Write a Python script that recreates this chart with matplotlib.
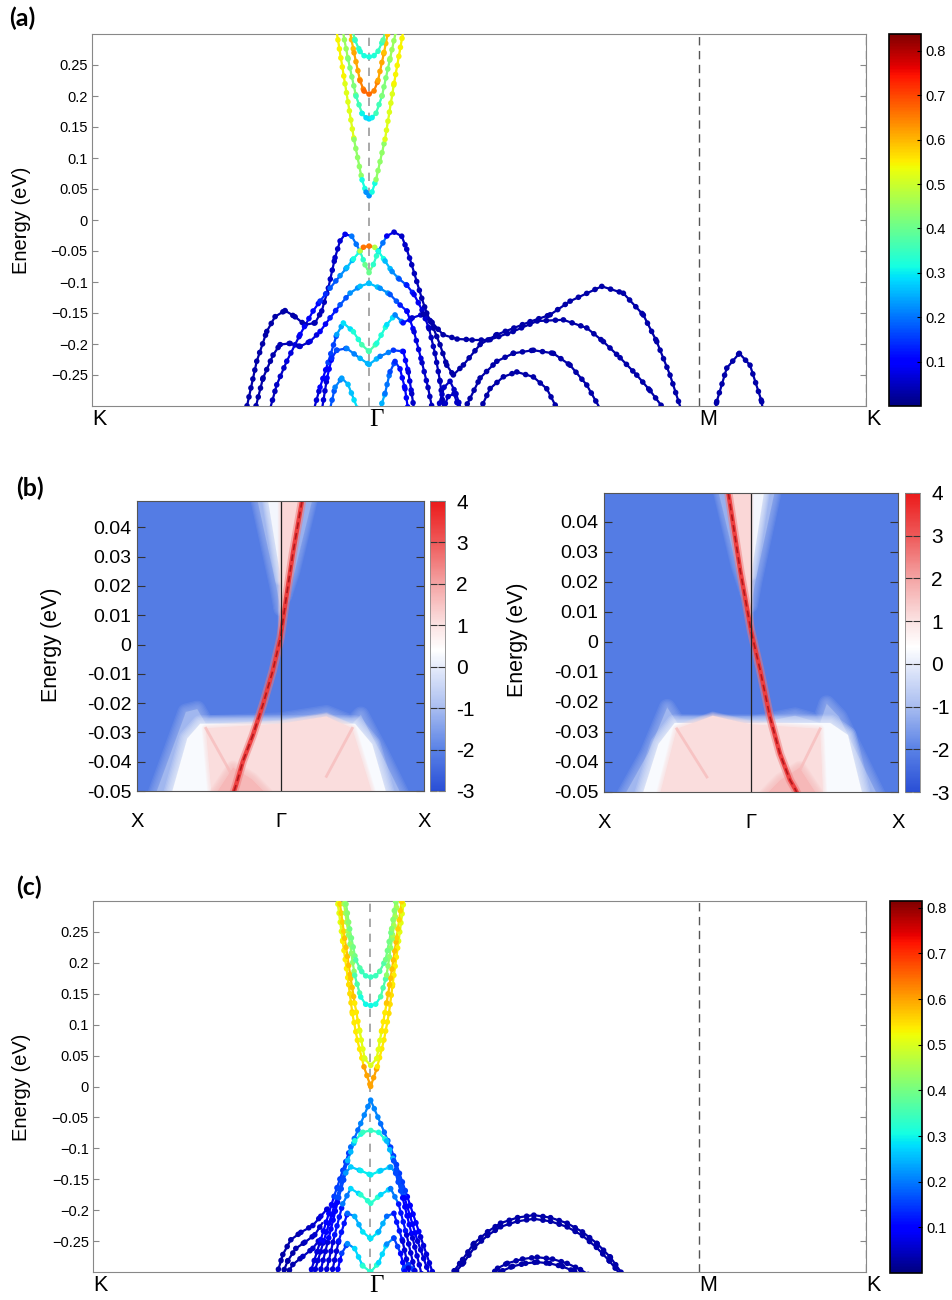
import numpy as np
import matplotlib
matplotlib.use('Agg')
import matplotlib.pyplot as plt
from matplotlib.collections import LineCollection
from matplotlib.colors import Normalize, LinearSegmentedColormap

plt.rcParams['font.family'] = ['Liberation Sans', 'DejaVu Sans']

# ---------------- k-path for panels (a) and (c) ----------------
path_ticks = [0.0, 2.77, 6.07, 7.74]
path_labels = ['K', 'Γ', 'M', 'K']
e_ticks = [-0.25, -0.2, -0.15, -0.1, -0.05, 0.0, 0.05, 0.1, 0.15, 0.2, 0.25]
cb_ticks = [0.1, 0.2, 0.3, 0.4, 0.5, 0.6, 0.7, 0.8]

# ---------------- panel (a) bands: k, energy (eV), weight ----------------
a_vb1_k = [1.55, 1.647, 1.747, 1.83, 1.93, 2.03, 2.13, 2.23, 2.297, 2.363, 2.43, 2.48, 2.53, 2.597, 2.68, 2.73, 2.77,
           2.813, 2.863, 2.947, 3.02, 3.097, 3.147, 3.197, 3.247, 3.297, 3.347, 3.413, 3.48, 3.547, 3.613, 3.713,
           3.88, 4.047, 4.38, 4.58, 4.78, 5.097, 5.313, 5.513, 5.647, 5.78, 5.90]
a_vb1_e = [-0.30, -0.228, -0.180, -0.156, -0.146, -0.156, -0.169, -0.166, -0.147, -0.110, -0.061, -0.034, -0.023,
           -0.026, -0.050, -0.072, -0.085, -0.072, -0.050, -0.026, -0.0195, -0.026, -0.047, -0.072, -0.099, -0.126,
           -0.150, -0.174, -0.201, -0.234, -0.25, -0.234, -0.201, -0.185, -0.164, -0.153, -0.131, -0.107, -0.118,
           -0.153, -0.196, -0.25, -0.31]
a_vb1_w = [0.03, 0.03, 0.03, 0.03, 0.03, 0.03, 0.04, 0.04, 0.04, 0.05, 0.05, 0.06, 0.07, 0.1, 0.3, 0.38, 0.42,
           0.38, 0.3, 0.1, 0.07, 0.06, 0.05, 0.05, 0.04, 0.04, 0.03, 0.03, 0.03, 0.03, 0.03, 0.03, 0.03, 0.03, 0.03,
           0.03, 0.03, 0.03, 0.03, 0.03, 0.03, 0.03, 0.03]

a_vb2_k = [1.78, 1.847, 1.947, 2.08, 2.21, 2.28, 2.38, 2.48, 2.547, 2.613, 2.68, 2.713, 2.77, 2.827, 2.863, 2.93,
           3.00, 3.07, 3.147, 3.22, 3.30, 3.37, 3.43, 3.48, 3.52]
a_vb2_e = [-0.305, -0.266, -0.228, -0.185, -0.147, -0.131, -0.11, -0.09, -0.077, -0.063, -0.050, -0.044, -0.042,
           -0.044, -0.050, -0.066, -0.083, -0.095, -0.105, -0.12, -0.145, -0.175, -0.215, -0.26, -0.31]
a_vb2_w = [0.04, 0.05, 0.06, 0.08, 0.1, 0.12, 0.16, 0.2, 0.24, 0.28, 0.35, 0.6, 0.72, 0.6, 0.35, 0.28, 0.24,
           0.2, 0.15, 0.1, 0.07, 0.05, 0.04, 0.04, 0.04]

a_vb3_k = [1.64, 1.71, 1.81, 1.88, 1.98, 2.08, 2.18, 2.28, 2.38, 2.48, 2.58, 2.68, 2.77, 2.88, 2.98, 3.08, 3.15,
           3.22, 3.30, 3.36, 3.41]
a_vb3_e = [-0.30, -0.255, -0.218, -0.201, -0.199, -0.204, -0.196, -0.18, -0.158, -0.137, -0.118, -0.107, -0.102,
           -0.11, -0.12, -0.137, -0.147, -0.18, -0.23, -0.27, -0.31]
a_vb3_w = [0.03, 0.03, 0.03, 0.04, 0.04, 0.05, 0.06, 0.08, 0.1, 0.15, 0.2, 0.25, 0.28, 0.25, 0.2, 0.15, 0.1,
           0.08, 0.06, 0.05, 0.04]

a_vb4_k = [2.22, 2.28, 2.36, 2.447, 2.513, 2.613, 2.697, 2.77, 2.847, 2.947, 3.03, 3.11, 3.20, 3.31, 3.40, 3.51,
           3.65, 3.80, 3.98, 4.21, 4.45, 4.713, 4.947, 5.113, 5.28, 5.447, 5.58, 5.72]
a_vb4_e = [-0.305, -0.27, -0.23, -0.185, -0.166, -0.18, -0.201, -0.212, -0.199, -0.169, -0.153, -0.166, -0.158,
           -0.152, -0.165, -0.185, -0.192, -0.193, -0.193, -0.18, -0.163, -0.161, -0.174, -0.196, -0.222, -0.25,
           -0.275, -0.305]
a_vb4_w = [0.05, 0.08, 0.12, 0.2, 0.28, 0.3, 0.35, 0.38, 0.35, 0.3, 0.28, 0.15, 0.08, 0.04, 0.03, 0.03, 0.03,
           0.03, 0.03, 0.03, 0.03, 0.03, 0.03, 0.03, 0.03, 0.03, 0.03, 0.03]

a_vb5_k = [2.30, 2.35, 2.397, 2.447, 2.547, 2.68, 2.77, 2.88, 3.013, 3.113, 3.163, 3.197, 3.22]
a_vb5_e = [-0.305, -0.255, -0.223, -0.21, -0.207, -0.223, -0.233, -0.22, -0.21, -0.212, -0.245, -0.28, -0.305]
a_vb5_w = [0.05, 0.08, 0.12, 0.16, 0.18, 0.24, 0.27, 0.24, 0.18, 0.12, 0.08, 0.06, 0.05]

a_vb6_k = [2.38, 2.43, 2.497, 2.56, 2.62, 2.67, 2.77, 2.87, 2.93, 2.98, 3.03, 3.08, 3.13, 3.16]
a_vb6_e = [-0.305, -0.27, -0.255, -0.265, -0.29, -0.31, -0.33, -0.31, -0.28, -0.245, -0.228, -0.24, -0.272, -0.305]
a_vb6_w = [0.15, 0.2, 0.22, 0.25, 0.28, 0.3, 0.3, 0.28, 0.22, 0.18, 0.15, 0.12, 0.1, 0.08]

a_vb7_k = [3.45, 3.52, 3.58, 3.64, 3.70]
a_vb7_e = [-0.31, -0.27, -0.26, -0.28, -0.31]
a_vb7_w = [0.05, 0.05, 0.05, 0.05, 0.05]

a_vb8_k = [3.50, 3.56, 3.62, 3.68]
a_vb8_e = [-0.31, -0.285, -0.28, -0.31]
a_vb8_w = [0.05, 0.05, 0.05, 0.05]

a_vb9_k = [3.71, 3.78, 3.88, 4.047, 4.213, 4.413, 4.613, 4.78, 4.947, 5.08]
a_vb9_e = [-0.31, -0.288, -0.255, -0.228, -0.215, -0.21, -0.215, -0.234, -0.266, -0.304]
a_vb9_w = [0.03, 0.03, 0.03, 0.03, 0.03, 0.03, 0.03, 0.03, 0.03, 0.03]

a_vb10_k = [3.87, 3.98, 4.113, 4.247, 4.413, 4.547, 4.67]
a_vb10_e = [-0.31, -0.272, -0.253, -0.245, -0.253, -0.272, -0.31]
a_vb10_w = [0.03, 0.03, 0.03, 0.03, 0.03, 0.03, 0.03]

a_vb11_k = [6.23, 6.247, 6.347, 6.473, 6.58, 6.697, 6.71]
a_vb11_e = [-0.31, -0.293, -0.239, -0.215, -0.234, -0.293, -0.31]
a_vb11_w = [0.03, 0.03, 0.03, 0.03, 0.03, 0.03, 0.03]

a_cb1_k = [2.43, 2.53, 2.62, 2.70, 2.74, 2.77, 2.80, 2.84, 2.93, 3.02, 3.13]
a_cb1_e = [0.32, 0.22, 0.13, 0.065, 0.045, 0.039, 0.045, 0.065, 0.13, 0.22, 0.32]
a_cb1_w = [0.55, 0.54, 0.5, 0.38, 0.25, 0.2, 0.25, 0.38, 0.5, 0.54, 0.55]

a_cb2_k = [2.49, 2.56, 2.64, 2.70, 2.74, 2.77, 2.80, 2.84, 2.90, 2.98, 3.06]
a_cb2_e = [0.32, 0.26, 0.20, 0.172, 0.165, 0.163, 0.165, 0.172, 0.20, 0.26, 0.32]
a_cb2_w = [0.45, 0.45, 0.4, 0.32, 0.29, 0.28, 0.29, 0.32, 0.4, 0.45, 0.45]

a_cb3_k = [2.56, 2.62, 2.68, 2.72, 2.77, 2.82, 2.86, 2.92, 2.98]
a_cb3_e = [0.32, 0.27, 0.225, 0.208, 0.203, 0.208, 0.225, 0.27, 0.32]
a_cb3_w = [0.58, 0.6, 0.63, 0.66, 0.68, 0.66, 0.63, 0.6, 0.58]

a_cb4_k = [2.58, 2.63, 2.68, 2.72, 2.77, 2.82, 2.86, 2.91, 2.96]
a_cb4_e = [0.32, 0.29, 0.272, 0.265, 0.263, 0.265, 0.272, 0.29, 0.32]
a_cb4_w = [0.4, 0.36, 0.33, 0.32, 0.32, 0.32, 0.33, 0.36, 0.4]

# ---------------- panel (c) bands ----------------
c_cb1_k = [2.44, 2.50, 2.56, 2.597, 2.647, 2.713, 2.78, 2.847, 2.913, 2.963, 3.00, 3.06, 3.12]
c_cb1_e = [0.31, 0.235, 0.165, 0.118, 0.075, 0.032, 0.0, 0.032, 0.075, 0.118, 0.165, 0.235, 0.31]
c_cb1_w = [0.5, 0.52, 0.55, 0.55, 0.53, 0.55, 0.65, 0.55, 0.53, 0.55, 0.55, 0.52, 0.5]

c_cb2_k = [2.46, 2.52, 2.58, 2.62, 2.67, 2.72, 2.78, 2.84, 2.89, 2.94, 2.98, 3.04, 3.10]
c_cb2_e = [0.31, 0.24, 0.175, 0.135, 0.09, 0.045, 0.034, 0.045, 0.09, 0.135, 0.175, 0.24, 0.31]
c_cb2_w = [0.55, 0.57, 0.58, 0.56, 0.52, 0.5, 0.5, 0.5, 0.52, 0.56, 0.58, 0.57, 0.55]

c_cb3_k = [2.50, 2.56, 2.62, 2.68, 2.73, 2.78, 2.83, 2.88, 2.94, 3.00, 3.06]
c_cb3_e = [0.31, 0.245, 0.18, 0.145, 0.133, 0.131, 0.133, 0.145, 0.18, 0.245, 0.31]
c_cb3_w = [0.45, 0.45, 0.4, 0.32, 0.3, 0.3, 0.3, 0.32, 0.4, 0.45, 0.45]

c_cb4_k = [2.52, 2.57, 2.63, 2.69, 2.73, 2.78, 2.83, 2.87, 2.93, 2.99, 3.04]
c_cb4_e = [0.31, 0.255, 0.205, 0.186, 0.179, 0.177, 0.179, 0.186, 0.205, 0.255, 0.31]
c_cb4_w = [0.42, 0.42, 0.38, 0.35, 0.34, 0.34, 0.34, 0.35, 0.38, 0.42, 0.42]

c_vb1_k = [2.16, 2.28, 2.413, 2.58, 2.68, 2.78, 2.88, 2.98, 3.147, 3.28, 3.42]
c_vb1_e = [-0.31, -0.248, -0.178, -0.098, -0.06, -0.022, -0.06, -0.098, -0.178, -0.243, -0.31]
c_vb1_w = [0.05, 0.08, 0.12, 0.18, 0.2, 0.22, 0.2, 0.18, 0.12, 0.08, 0.05]

c_vb2_k = [2.20, 2.31, 2.44, 2.55, 2.62, 2.70, 2.78, 2.86, 2.94, 3.01, 3.12, 3.25, 3.38]
c_vb2_e = [-0.31, -0.25, -0.18, -0.12, -0.088, -0.074, -0.071, -0.074, -0.088, -0.12, -0.18, -0.25, -0.31]
c_vb2_w = [0.05, 0.08, 0.12, 0.2, 0.3, 0.33, 0.35, 0.33, 0.3, 0.2, 0.12, 0.08, 0.05]

c_vb3_k = [2.26, 2.36, 2.46, 2.53, 2.58, 2.68, 2.78, 2.88, 2.98, 3.03, 3.10, 3.20, 3.30]
c_vb3_e = [-0.31, -0.245, -0.18, -0.14, -0.130, -0.136, -0.143, -0.136, -0.130, -0.14, -0.18, -0.245, -0.31]
c_vb3_w = [0.05, 0.08, 0.12, 0.2, 0.25, 0.28, 0.3, 0.28, 0.25, 0.2, 0.12, 0.08, 0.05]

c_vb4_k = [2.32, 2.42, 2.50, 2.58, 2.68, 2.78, 2.88, 2.98, 3.06, 3.14, 3.24]
c_vb4_e = [-0.31, -0.24, -0.19, -0.165, -0.175, -0.189, -0.175, -0.165, -0.19, -0.24, -0.31]
c_vb4_w = [0.05, 0.08, 0.15, 0.25, 0.3, 0.35, 0.3, 0.25, 0.15, 0.08, 0.05]

c_vb5_k = [2.38, 2.46, 2.547, 2.62, 2.70, 2.78, 2.86, 2.94, 3.013, 3.10, 3.18]
c_vb5_e = [-0.31, -0.25, -0.205, -0.21, -0.235, -0.246, -0.235, -0.21, -0.205, -0.25, -0.31]
c_vb5_w = [0.05, 0.08, 0.15, 0.22, 0.27, 0.3, 0.27, 0.22, 0.15, 0.08, 0.05]

c_vb6_k = [2.43, 2.49, 2.547, 2.62, 2.70, 2.78, 2.86, 2.94, 3.013, 3.08, 3.14]
c_vb6_e = [-0.31, -0.27, -0.254, -0.262, -0.29, -0.30, -0.285, -0.255, -0.245, -0.27, -0.31]
c_vb6_w = [0.08, 0.12, 0.18, 0.25, 0.3, 0.35, 0.3, 0.25, 0.18, 0.12, 0.08]

c_vb7_k = [1.83, 1.90, 1.98, 2.08, 2.20, 2.28, 2.36]
c_vb7_e = [-0.31, -0.272, -0.248, -0.236, -0.225, -0.21, -0.195]
c_vb7_w = [0.03, 0.03, 0.03, 0.04, 0.05, 0.06, 0.08]

c_vb8_k = [1.88, 1.95, 2.03, 2.12, 2.22, 2.30]
c_vb8_e = [-0.31, -0.282, -0.262, -0.252, -0.24, -0.22]
c_vb8_w = [0.03, 0.03, 0.03, 0.04, 0.05, 0.06]

c_vb9_k = [1.92, 2.0, 2.1, 2.2, 2.28]
c_vb9_e = [-0.31, -0.288, -0.275, -0.262, -0.245]
c_vb9_w = [0.03, 0.03, 0.04, 0.05, 0.06]

c_vb10_k = [3.08, 3.12, 3.16, 3.20, 3.24]
c_vb10_e = [-0.31, -0.292, -0.288, -0.295, -0.31]
c_vb10_w = [0.15, 0.15, 0.15, 0.15, 0.15]

c_vb11_k = [3.56, 3.70, 3.813, 3.95, 4.08, 4.25, 4.413, 4.58, 4.747, 4.90, 5.047, 5.18, 5.33]
c_vb11_e = [-0.31, -0.28, -0.254, -0.235, -0.221, -0.212, -0.208, -0.212, -0.221, -0.235, -0.254, -0.276, -0.31]
c_vb11_w = [0.03, 0.03, 0.03, 0.03, 0.03, 0.03, 0.03, 0.03, 0.03, 0.03, 0.03, 0.03, 0.03]

c_vb12_k = [3.58, 3.71, 3.82, 3.95, 4.08, 4.25, 4.413, 4.58, 4.747, 4.90, 5.04, 5.17, 5.31]
c_vb12_e = [-0.31, -0.285, -0.26, -0.241, -0.227, -0.218, -0.214, -0.218, -0.227, -0.241, -0.26, -0.282, -0.31]
c_vb12_w = [0.03, 0.03, 0.03, 0.03, 0.03, 0.03, 0.03, 0.03, 0.03, 0.03, 0.03, 0.03, 0.03]

c_vb13_k = [3.96, 4.05, 4.147, 4.30, 4.447, 4.60, 4.747, 4.88, 5.02]
c_vb13_e = [-0.31, -0.294, -0.286, -0.279, -0.276, -0.279, -0.286, -0.296, -0.31]
c_vb13_w = [0.03, 0.03, 0.03, 0.03, 0.03, 0.03, 0.03, 0.03, 0.03]

c_vb14_k = [4.0, 4.1, 4.2, 4.33, 4.447, 4.57, 4.70, 4.82, 4.95]
c_vb14_e = [-0.31, -0.298, -0.291, -0.286, -0.284, -0.286, -0.291, -0.299, -0.31]
c_vb14_w = [0.03, 0.03, 0.03, 0.03, 0.03, 0.03, 0.03, 0.03, 0.03]

# ---------------- panel (b) spectral maps ----------------
b_xticks = [-1.0, 0.0, 1.0]
b_xlabels = ['X', 'Γ', 'X']
b_yticks = [-0.05, -0.04, -0.03, -0.02, -0.01, 0.0, 0.01, 0.02, 0.03, 0.04]
b_ylabels = ['-0.05', '-0.04', '-0.03', '-0.02', '-0.01', '0', '0.01', '0.02', '0.03', '0.04']
b_cticks = [-3, -2, -1, 0, 1, 2, 3, 4]
b_background = -2.1

bl_ss_k = [0.15, 0.086, 0.04, 0.0, -0.054, -0.123, -0.193, -0.263, -0.31, -0.33]
bl_ss_e = [0.049, 0.031, 0.016, 0.0023, -0.009, -0.0206, -0.031, -0.040, -0.048, -0.051]
bl_cone_k = [-0.16, 0.02, 0.0, -0.03]
bl_cone_e = [0.049, 0.049, 0.012, 0.02]
bl_core_k = [-0.09, 0.0, 0.0]
bl_core_e = [0.049, 0.049, 0.022]
bl_sliver_k = [0.0, 0.15, 0.086, 0.04, 0.0]
bl_sliver_e = [0.049, 0.049, 0.031, 0.016, 0.0023]
bl_halo_k = [0.15, 0.22, 0.10, 0.04]
bl_halo_e = [0.049, 0.049, 0.025, 0.016]
bl_outer_k = [-0.87, -0.75, -0.66, -0.58, -0.52, 0.0, 0.32, 0.50, 0.56, 0.70, 0.84]
bl_outer_e = [-0.051, -0.035, -0.023, -0.022, -0.027, -0.026, -0.0235, -0.027, -0.024, -0.037, -0.051]
bl_mid_k = [-0.76, -0.65, -0.56, 0.52, 0.64, 0.74]
bl_mid_e = [-0.051, -0.032, -0.027, -0.027, -0.034, -0.051]
bl_pink_k = [-0.48, -0.52, 0.0, 0.32, 0.50, 0.64]
bl_pink_e = [-0.051, -0.0286, -0.027, -0.0245, -0.0286, -0.051]
bl_edge1_k = [-0.52, -0.30]
bl_edge1_e = [-0.0286, -0.048]
bl_edge2_k = [0.50, 0.32]
bl_edge2_e = [-0.0286, -0.045]
bl_blob_k = [-0.45, -0.33, -0.20, -0.10]
bl_blob_e = [-0.051, -0.042, -0.046, -0.051]

br_ss_k = [-0.154, -0.073, 0.0, 0.063, 0.129, 0.197, 0.265, 0.30, 0.32]
br_ss_e = [0.0495, 0.0236, 0.0037, -0.0096, -0.025, -0.0373, -0.046, -0.049, -0.051]
br_cone_k = [0.16, -0.02, 0.0, 0.03]
br_cone_e = [0.0495, 0.0495, 0.012, 0.02]
br_core_k = [0.09, 0.0, 0.0]
br_core_e = [0.0495, 0.0495, 0.022]
br_sliver_k = [0.0, -0.154, -0.073, 0.0]
br_sliver_e = [0.0495, 0.0495, 0.0236, 0.0037]
br_halo_k = [-0.154, -0.22, -0.10, -0.04]
br_halo_e = [0.0495, 0.0495, 0.025, 0.016]
br_outer_k = [-0.86, -0.70, -0.57, -0.50, 0.0, 0.30, 0.47, 0.515, 0.60, 0.70, 0.86]
br_outer_e = [-0.051, -0.037, -0.0218, -0.027, -0.0275, -0.0246, -0.027, -0.0206, -0.025, -0.035, -0.051]
br_mid_k = [-0.74, -0.63, -0.52, 0.54, 0.66, 0.76]
br_mid_e = [-0.051, -0.034, -0.027, -0.027, -0.031, -0.051]
br_pink_k = [-0.62, -0.505, -0.26, 0.0, 0.47, 0.49]
br_pink_e = [-0.051, -0.029, -0.0246, -0.0275, -0.029, -0.051]
br_edge1_k = [-0.505, -0.30]
br_edge1_e = [-0.029, -0.045]
br_edge2_k = [0.47, 0.28]
br_edge2_e = [-0.029, -0.048]
br_blob_k = [0.10, 0.20, 0.33, 0.45]
br_blob_e = [-0.051, -0.046, -0.042, -0.051]

# ---------------- helpers ----------------
jet = plt.cm.jet
spec_cmap = LinearSegmentedColormap.from_list(
    'spec', [(0.0, '#2a4fd6'), (1 / 7, '#5a82e6'), (2 / 7, '#a9bdf0'), (3.4 / 7, '#ffffff'),
             (4 / 7, '#fbe3e3'), (5 / 7, '#f4a5a5'), (6 / 7, '#ee5a5a'), (1.0, '#ec1a1a')])
spec_norm = Normalize(-3, 4)


def draw_band(ax, k, e, w, norm):
    k = np.asarray(k)
    e = np.asarray(e)
    w = np.asarray(w)
    ax.plot(k, e, color='#333333', lw=0.7, zorder=2)
    pts = np.column_stack([k, e]).reshape(-1, 1, 2)
    segs = np.concatenate([pts[:-1], pts[1:]], axis=1)
    cols = jet(norm(0.5 * (w[:-1] + w[1:])))
    ax.add_collection(LineCollection(segs, colors=cols, linewidths=1.6, zorder=3))
    ax.add_collection(LineCollection(segs, colors=cols, linewidths=4.0, linestyles=[(0, (0.05, 1.6))],
                                     capstyle='round', zorder=4))


def band_panel(ax, cax, bands, vmax):
    norm = Normalize(0, vmax)
    for k, e, w in bands:
        draw_band(ax, k, e, w, norm)
    ax.set_xlim(path_ticks[0], path_ticks[-1])
    ax.set_ylim(-0.30, 0.30)
    ax.axvline(path_ticks[1], color='#999999', lw=1.2, ls=(0, (5, 4)), zorder=1)
    ax.axvline(path_ticks[2], color='#555555', lw=1.0, ls=(0, (6, 4)), zorder=1)
    ax.axvline(path_ticks[3], color='#888888', lw=1.0, ls=(0, (6, 4)), zorder=1)
    for s in ax.spines.values():
        s.set_color('#888888')
    ax.set_yticks(e_ticks)
    ax.set_yticklabels([f'{v:g}'.replace('-', '\u2212') for v in e_ticks], fontsize=10.5)
    ax.tick_params(axis='y', direction='in', length=4, color='#888888', right=True, pad=3)
    ax.set_xticks(path_ticks)
    ax.set_xticklabels(path_labels, fontsize=15.5, ha='left')
    gamma = ax.get_xticklabels()[1]
    gamma.set_family('Liberation Serif')
    gamma.set_fontsize(18)
    ax.tick_params(axis='x', length=0, pad=2)
    sm = plt.cm.ScalarMappable(norm=norm, cmap=jet)
    cb = plt.colorbar(sm, cax=cax, ticks=cb_ticks)
    cb.ax.tick_params(direction='in', length=3, labelsize=10.5)
    cb.ax.set_yticklabels([f'{v:g}' for v in cb_ticks])
    cb.outline.set_linewidth(1.2)


def soft_fill(ax, k, e, color, z, feather=7.0, steps=6):
    # solid polygon plus a few translucent strokes so the edge fades into the background
    ax.fill(k, e, color=color, lw=0, zorder=z)
    for i in range(1, steps + 1):
        ax.fill(k, e, facecolor='none', edgecolor=color, lw=feather * i / steps,
                alpha=0.9 / steps, joinstyle='round', zorder=z)


def spec_panel(ax, cax, d, ymax):
    c = lambda v: spec_cmap(spec_norm(v))
    ax.set_facecolor(c(b_background))
    soft_fill(ax, d['outer_k'], d['outer_e'], c(-1.1), 1, feather=12)
    soft_fill(ax, d['mid_k'], d['mid_e'], c(0.3), 2, feather=12)
    soft_fill(ax, d['pink_k'], d['pink_e'], c(1.1), 3, feather=6)
    soft_fill(ax, d['blob_k'], d['blob_e'], c(1.7), 3, feather=10)
    ax.plot(d['edge1_k'], d['edge1_e'], color=c(1.7), lw=2, alpha=0.7, zorder=3)
    ax.plot(d['edge2_k'], d['edge2_e'], color=c(1.7), lw=2, alpha=0.7, zorder=3)
    soft_fill(ax, d['cone_k'], d['cone_e'], c(-1.1), 1, feather=10)
    soft_fill(ax, d['core_k'], d['core_e'], c(0.2), 2, feather=8)
    soft_fill(ax, d['halo_k'], d['halo_e'], c(-1.2), 2, feather=8)
    soft_fill(ax, d['sliver_k'], d['sliver_e'], c(1.2), 3, feather=4)
    ax.plot(d['ss_k'], d['ss_e'], color=c(2.6), lw=6, alpha=0.5, zorder=4)
    ax.plot(d['ss_k'], d['ss_e'], color=c(3.4), lw=3.2, zorder=4)
    ax.plot(d['ss_k'], d['ss_e'], color='#b3171c', lw=1.2, ls=(0, (4, 2.5)), zorder=5)
    ax.axvline(0.0, color='#222222', lw=0.9, zorder=6)
    ax.set_xlim(-1, 1)
    ax.set_ylim(-0.05, ymax)
    ax.set_yticks(b_yticks)
    ax.set_yticklabels(b_ylabels, fontsize=14)
    ax.tick_params(axis='y', direction='in', length=6, color='#333333', right=True, pad=4)
    ax.set_xticks(b_xticks)
    ax.set_xticklabels(b_xlabels, fontsize=14.5)
    ax.tick_params(axis='x', length=0, pad=15)
    for s in ax.spines.values():
        s.set_color('#555555')
        s.set_linewidth(0.8)
        s.set_zorder(7)
    sm = plt.cm.ScalarMappable(norm=spec_norm, cmap=spec_cmap)
    cb = plt.colorbar(sm, cax=cax, ticks=b_cticks)
    cb.ax.set_yticklabels([str(v) for v in b_cticks])
    cb.ax.tick_params(direction='in', length=5, labelsize=15, color='#333333', left=True, right=True, pad=8)
    cb.outline.set_edgecolor('#888888')
    cb.outline.set_linewidth(0.6)


# ---------------- figure ----------------
fig = plt.figure(figsize=(9.52, 13.0), dpi=100)
W, H = 952.0, 1300.0


def box(x0, y0, x1, y1):
    return [x0 / W, 1 - y1 / H, (x1 - x0) / W, (y1 - y0) / H]


ax_a = fig.add_axes(box(92, 34, 866, 406))
cax_a = fig.add_axes(box(889, 34, 921, 406))
ax_bl = fig.add_axes(box(137, 501, 424, 791))
cax_bl = fig.add_axes(box(430, 501, 445, 791))
ax_br = fig.add_axes(box(604, 493, 898, 792))
cax_br = fig.add_axes(box(905, 493, 920, 792))
ax_c = fig.add_axes(box(93, 901, 866, 1272))
cax_c = fig.add_axes(box(890, 901, 922, 1273))

a_bands = [
    (a_vb1_k, a_vb1_e, a_vb1_w), (a_vb2_k, a_vb2_e, a_vb2_w), (a_vb3_k, a_vb3_e, a_vb3_w),
    (a_vb4_k, a_vb4_e, a_vb4_w), (a_vb5_k, a_vb5_e, a_vb5_w), (a_vb6_k, a_vb6_e, a_vb6_w),
    (a_vb7_k, a_vb7_e, a_vb7_w), (a_vb8_k, a_vb8_e, a_vb8_w), (a_vb9_k, a_vb9_e, a_vb9_w),
    (a_vb10_k, a_vb10_e, a_vb10_w), (a_vb11_k, a_vb11_e, a_vb11_w),
    (a_cb1_k, a_cb1_e, a_cb1_w), (a_cb2_k, a_cb2_e, a_cb2_w), (a_cb3_k, a_cb3_e, a_cb3_w),
    (a_cb4_k, a_cb4_e, a_cb4_w),
]
c_bands = [
    (c_vb7_k, c_vb7_e, c_vb7_w), (c_vb8_k, c_vb8_e, c_vb8_w), (c_vb9_k, c_vb9_e, c_vb9_w),
    (c_vb10_k, c_vb10_e, c_vb10_w), (c_vb11_k, c_vb11_e, c_vb11_w), (c_vb12_k, c_vb12_e, c_vb12_w),
    (c_vb13_k, c_vb13_e, c_vb13_w), (c_vb14_k, c_vb14_e, c_vb14_w),
    (c_vb1_k, c_vb1_e, c_vb1_w), (c_vb2_k, c_vb2_e, c_vb2_w), (c_vb3_k, c_vb3_e, c_vb3_w),
    (c_vb4_k, c_vb4_e, c_vb4_w), (c_vb5_k, c_vb5_e, c_vb5_w), (c_vb6_k, c_vb6_e, c_vb6_w),
    (c_cb1_k, c_cb1_e, c_cb1_w), (c_cb2_k, c_cb2_e, c_cb2_w), (c_cb3_k, c_cb3_e, c_cb3_w),
    (c_cb4_k, c_cb4_e, c_cb4_w),
]

band_panel(ax_a, cax_a, a_bands, 0.838)
band_panel(ax_c, cax_c, c_bands, 0.815)

left_map = dict(ss_k=bl_ss_k, ss_e=bl_ss_e, cone_k=bl_cone_k, cone_e=bl_cone_e, core_k=bl_core_k,
                core_e=bl_core_e, sliver_k=bl_sliver_k, sliver_e=bl_sliver_e, halo_k=bl_halo_k,
                halo_e=bl_halo_e, outer_k=bl_outer_k, outer_e=bl_outer_e, mid_k=bl_mid_k, mid_e=bl_mid_e,
                pink_k=bl_pink_k, pink_e=bl_pink_e, edge1_k=bl_edge1_k, edge1_e=bl_edge1_e,
                edge2_k=bl_edge2_k, edge2_e=bl_edge2_e, blob_k=bl_blob_k, blob_e=bl_blob_e)
right_map = dict(ss_k=br_ss_k, ss_e=br_ss_e, cone_k=br_cone_k, cone_e=br_cone_e, core_k=br_core_k,
                 core_e=br_core_e, sliver_k=br_sliver_k, sliver_e=br_sliver_e, halo_k=br_halo_k,
                 halo_e=br_halo_e, outer_k=br_outer_k, outer_e=br_outer_e, mid_k=br_mid_k, mid_e=br_mid_e,
                 pink_k=br_pink_k, pink_e=br_pink_e, edge1_k=br_edge1_k, edge1_e=br_edge1_e,
                 edge2_k=br_edge2_k, edge2_e=br_edge2_e, blob_k=br_blob_k, blob_e=br_blob_e)
spec_panel(ax_bl, cax_bl, left_map, 0.049)
spec_panel(ax_br, cax_br, right_map, 0.0495)

# axis titles and panel letters
fig.text(22 / W, 1 - 220 / H, 'Energy (eV)', rotation=90, ha='center', va='center', fontsize=14.5)
fig.text(22 / W, 1 - 1087 / H, 'Energy (eV)', rotation=90, ha='center', va='center', fontsize=14.5)
fig.text(52 / W, 1 - 645 / H, 'Energy (eV)', rotation=90, ha='center', va='center', fontsize=15.5)
fig.text(517 / W, 1 - 640 / H, 'Energy (eV)', rotation=90, ha='center', va='center', fontsize=15.5)
for lbl, x, y in [('(a)', 9, 18), ('(b)', 16, 488), ('(c)', 16, 887)]:
    fig.text(x / W, 1 - y / H, lbl, ha='left', va='center', fontsize=18, fontweight='bold', family='Lato')

fig.savefig('out.png', dpi=100)
